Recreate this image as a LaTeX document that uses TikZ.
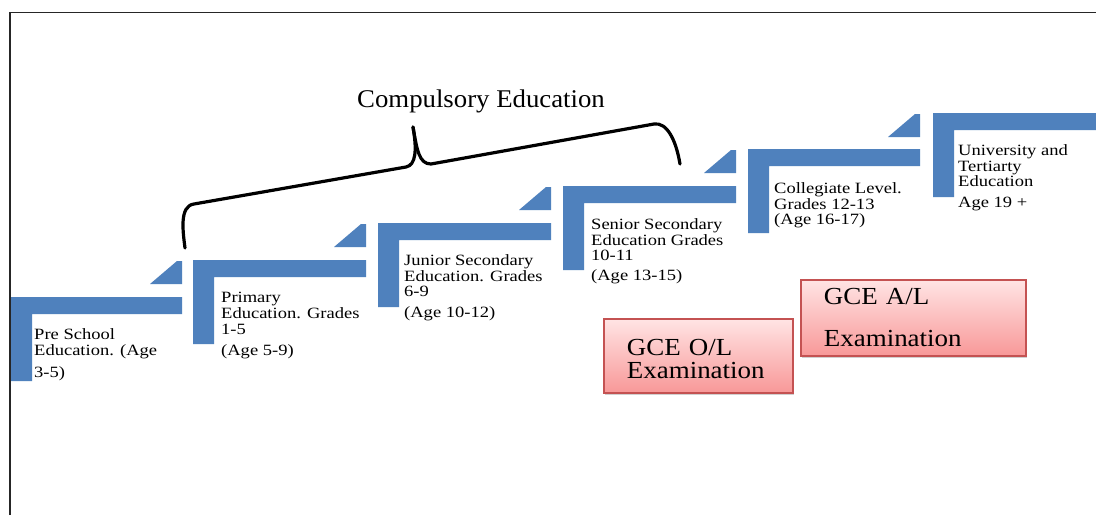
\documentclass[tikz,border=0pt]{standalone}
\usepackage{fontspec}
\setmainfont{Liberation Serif}
\newfontfamily\stepfont[FakeStretch=1.18]{Liberation Serif}
\newfontfamily\titlefont[FakeStretch=1.05]{Liberation Serif}
\newfontfamily\gcefont[FakeStretch=1.1]{Liberation Serif}
\usetikzlibrary{shadows}
\definecolor{stepblue}{RGB}{79,129,189}
\definecolor{gcetop}{RGB}{255,228,228}
\definecolor{gcebot}{RGB}{248,152,152}
\definecolor{gceline}{RGB}{196,82,82}
\begin{document}
\begin{tikzpicture}[x=1pt,y=-1pt,
  stepshape/.style={fill=stepblue,draw=none},
  steplabel/.style={anchor=north west,inner sep=0pt,align=left,
    font=\stepfont\fontsize{15.7}{15.7}\selectfont},
  titlelabel/.style={anchor=base west,inner sep=0pt,
    font=\titlefont\fontsize{25.5}{25.5}\selectfont},
  brace/.style={draw=black,line width=3.2pt,line cap=round,line join=round},
  gcebox/.style={draw=gceline,line width=1.8pt,top color=gcetop,bottom color=gcebot,
    align=left,inner xsep=23pt,inner ysep=0pt,anchor=north west,
    font=\gcefont\fontsize{24.5}{23}\selectfont,
    drop shadow={shadow xshift=1pt,shadow yshift=-2pt,opacity=0.3,fill=black!60}},
  frameline/.style={draw=black!85,line width=1.3pt}]
\useasboundingbox (0,0) rectangle (1096,515);
\fill[white] (0,0) rectangle (1096,515);

% steps
\foreach \L/\T/\R in {11/297/182, 193/260/366, 378/223/551, 563/186/736, 748/149/920, 933/113/1096}
  \fill[stepshape] (\L,\T) -- (\R,\T) -- (\R,\T+17) -- (\L+21,\T+17) -- (\L+21,\T+84) -- (\L,\T+84) -- cycle;

% small wedges
\foreach \R/\T in {182/260, 366/223, 551/186, 736/149, 920/113}
  \fill[stepshape] (\R-32,\T+24) -- (\R-5,\T+1) -- (\R,\T+1) -- (\R,\T+24) -- cycle;

% frame
\draw[frameline] (10,515) -- (10,12.5) -- (1096,12.5);

% step labels
\node[steplabel] (pre) at (34,328.3) {Pre School\\Education. (Age\\[7pt]3-5)};
\node[steplabel] (primary) at (221,292) {Primary\\Education. Grades\\1-5\\[5.3pt](Age 5-9)};
\node[steplabel] (junior) at (404,254.3) {Junior Secondary\\Education. Grades\\6-9\\[5.3pt](Age 10-12)};
\node[steplabel] (senior) at (591,218.3) {Senior Secondary\\Education Grades\\10-11\\[4.3pt](Age 13-15)};
\node[steplabel] (collegiate) at (774,182.3) {Collegiate Level.\\Grades 12-13\\(Age 16-17)};
\node[steplabel] (university) at (958,144.3) {University and\\Tertiarty\\Education\\[5.3pt]Age 19 +};

% title and brace
\node[titlelabel] (title) at (357,107) {Compulsory Education};
\draw[brace] (185,248) .. controls (183,232) and (179,206) .. (194,204) -- (406,167) .. controls (416,165) and (417,150) .. (413,127);
\draw[brace] (413,127) .. controls (417,150) and (419,164) .. (431,164) -- (654,124) .. controls (667,122) and (676,140) .. (680,164);

% examination boxes
\node[gcebox,text width=143pt,minimum height=74pt] (ol) at (603,318) {\rule{0pt}{23pt}GCE O/L\\Examination};
\node[gcebox,text width=179pt,minimum height=76pt] (al) at (800,279) {GCE A/L\\[19pt]Examination};
\end{tikzpicture}
\end{document}
